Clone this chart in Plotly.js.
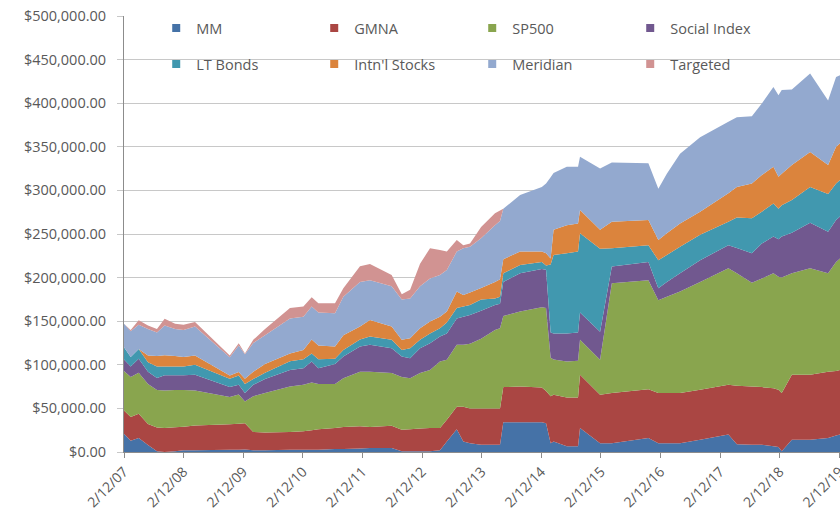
<!DOCTYPE html>
<html>
<head>
<meta charset="utf-8">
<script src="https://cdn.plot.ly/plotly-3.0.1.min.js"></script>
<style>html,body{margin:0;padding:0;background:#fff}#chart{width:840px;height:521px}</style>
</head>
<body>
<div id="chart"></div>
<script>
const dates = ['2007-02-12','2007-03-25','2007-05-13','2007-07-09','2007-09-02','2007-10-19','2007-12-22','2008-02-12','2008-04-22','2008-11-21',
'2009-01-15','2009-02-22','2009-04-14','2009-06-25','2009-11-25','2010-02-15','2010-04-07','2010-05-18','2010-08-28','2010-10-18',
'2011-01-28','2011-03-30','2011-08-10','2011-10-11','2011-12-01','2012-01-31','2012-04-01','2012-06-01','2012-07-13','2012-09-12',
'2012-10-22','2012-12-02','2013-02-08','2013-05-04','2013-06-04','2013-06-24','2013-10-05','2014-02-15','2014-03-13','2014-04-10',
'2014-04-28','2014-07-18','2014-09-25','2014-10-07','2015-02-07','2015-04-20','2015-11-30','2016-01-30','2016-03-22','2016-06-11',
'2016-10-12','2017-04-03','2017-05-25','2017-08-25','2017-10-25','2018-01-04','2018-02-04','2018-02-24','2018-04-27','2018-08-17',
'2018-12-05','2019-01-23','2019-02-16'];

const MM = [21000,13000,16000,8000,1000,0,1000,2000,2000,2700,
2700,3000,2000,2000,2700,2700,2700,2700,3400,3400,
4000,4600,4600,1000,1000,1000,1000,2000,12000,26000,
12000,10000,8400,8400,8400,34000,34000,34000,33000,10000,
12000,6500,6500,27500,10000,10000,16000,10000,10000,10000,
14000,20000,9000,8400,8400,6500,5700,800,14000,14000,
16000,19000,20000];

const GMNA = [26700,27000,28000,24000,27000,27500,27500,27000,28500,29000,
29700,30000,21000,20500,20300,21000,22100,23300,24100,25200,
25400,24000,25400,24600,25000,26000,26500,25500,25000,26000,
40000,40000,41600,41600,41600,40400,41000,40000,37000,54000,
53600,56100,56100,61100,55600,57600,56000,57600,57600,57600,
57400,57000,67000,66600,66000,66500,65700,66800,74600,74600,
76000,74000,74000];

const SP500 = [45300,46000,47000,46000,43000,43100,42500,42000,40100,31300,
33600,25000,41000,45100,52000,53300,55000,52000,50500,56100,
62600,63400,60500,60400,58700,63500,66500,76300,68700,71000,
71000,74000,80000,90000,92000,81600,86000,92000,95000,44000,
40400,41200,42000,40000,40100,125900,125000,106400,110400,116400,
123600,133700,129000,119000,124600,132000,129600,132400,116400,122100,
113000,125000,128000];

const SocialIndex = [13000,12000,16000,14000,14000,17400,17000,17000,17900,11400,
11000,9600,13000,16000,19000,19000,24000,18000,23000,24800,
29000,31000,28500,23500,22900,28500,30800,28600,30300,30000,
32000,33000,32000,28700,28000,39000,44000,44000,44000,29000,
30000,32200,32400,31400,32300,19100,21000,13800,17000,21000,
25000,26300,29000,34000,40000,42000,43000,47000,46500,52300,
47700,48000,48000];

const LTBonds = [14000,11000,11000,11000,13000,10000,10000,10000,11500,9600,
10800,10400,6600,7400,10000,10500,9200,10500,6000,7500,
8000,9400,9600,7500,11400,9600,11200,9600,12500,12000,
11800,11700,13000,7300,8000,10000,9500,8000,5000,78000,
90000,92000,93000,90800,95000,21000,19000,32200,31000,30500,
29000,27000,35000,40000,36600,38000,35000,36000,37500,41000,
43300,42000,42000];

const IntlStocks = [0,0,0,7700,12000,13000,12000,11000,10700,3800,
3800,6000,8400,9800,9000,10500,16000,15500,14000,17000,
15000,19100,15400,11600,11500,13400,13600,13000,12500,19000,
13200,14300,13000,19000,20000,16000,15500,12000,14000,7000,
29000,32000,32000,26700,22000,30400,29000,23000,25000,26500,
26600,32600,35000,40000,42000,42000,36600,36000,40000,40000,
33000,42000,42000];

const Meridian = [27000,29600,28000,30300,27000,34000,31000,31000,33300,21000,
30400,28000,33000,33200,40000,38000,38000,38000,38000,44000,
51000,45500,46000,46400,45500,48000,49400,48000,47800,45800,
53600,52500,57000,65000,67000,58000,64700,74000,80000,93000,
65000,67000,65000,61100,70000,68000,65000,59000,68000,80000,
85400,82000,80000,77000,82000,91700,93400,96000,86700,90000,
74000,80000,78000];

const Targeted = [0,1400,5000,4000,4000,7700,6000,6000,5000,1900,
2800,1000,3600,7000,12000,12000,10500,10600,11600,9800,
18000,18700,13000,6000,10000,26000,34600,28700,21000,13200,
3400,3500,13000,13700,12000,0,0,0,0,0,
0,0,0,0,0,0,0,0,0,0,
0,0,0,0,0,0,0,0,0,0,
0,0,0];

const seriesNames = ['MM','GMNA','SP500','Social Index','LT Bonds',"Intn'l Stocks",'Meridian','Targeted'];
const seriesData = [MM, GMNA, SP500, SocialIndex, LTBonds, IntlStocks, Meridian, Targeted];
const seriesColors = ['#4572A7','#AA4643','#89A54E','#71588F','#4198AF','#DB843D','#93A9CF','#D19392'];

const tickDates = ['2007-02-12','2008-02-12','2009-02-12','2010-02-12','2011-02-12','2012-02-12','2013-02-12','2014-02-12','2015-02-12','2016-02-12','2017-02-12','2018-02-12','2019-02-12'];
const tickLabels = ['2/12/07','2/12/08','2/12/09','2/12/10','2/12/11','2/12/12','2/12/13','2/12/14','2/12/15','2/12/16','2/12/17','2/12/18','2/12/19'];

const traces = [];
seriesNames.forEach((name, i) => {
  traces.push({
    type: 'scatter', x: dates, y: seriesData[i], name: name,
    stackgroup: 'one', mode: 'none', fillcolor: seriesColors[i],
    line: {width: 0}, showlegend: false, hoverinfo: 'x+y+name'
  });
});
seriesNames.forEach((name, i) => {
  traces.push({
    type: 'scatter', x: [dates[0]], y: [null], name: name, mode: 'markers',
    marker: {symbol: 'square', size: 8, color: seriesColors[i]},
    legend: i < 4 ? 'legend' : 'legend2', showlegend: true, hoverinfo: 'skip'
  });
});

const gray = '#595959';
const legendCommon = {
  orientation: 'h', entrywidth: 113, entrywidthmode: 'pixels', traceorder: 'normal',
  bgcolor: 'rgba(0,0,0,0)', borderwidth: 0,
  font: {family: 'Open Sans, sans-serif', size: 14.5, color: gray},
  xref: 'paper', yref: 'paper', xanchor: 'left', yanchor: 'middle',
  itemclick: false, itemdoubleclick: false
};

const layout = {
  width: 840, height: 521,
  margin: {l: 124, r: 0, t: 16, b: 69, pad: 0},
  paper_bgcolor: '#ffffff', plot_bgcolor: '#ffffff',
  font: {family: 'Open Sans, sans-serif', size: 14.5, color: gray},
  showlegend: true,
  xaxis: {
    type: 'date', range: [dates[0], dates[dates.length - 1]],
    tickmode: 'array', tickvals: tickDates, ticktext: tickLabels,
    tickangle: -45, showgrid: false, zeroline: false,
    showline: true, linecolor: '#8C8C8C', linewidth: 1,
    ticks: 'outside', ticklen: 5, tickcolor: '#8C8C8C',
    ticklabeloverflow: 'allow',
    tickfont: {family: 'Open Sans, sans-serif', size: 14, color: gray},
    automargin: false
  },
  yaxis: {
    range: [0, 500000], tick0: 0, dtick: 50000, tickformat: '$,.2f',
    showgrid: true, gridcolor: '#C8C8C8', gridwidth: 1, zeroline: false,
    showline: true, linecolor: '#8C8C8C', linewidth: 1,
    ticks: 'outside', ticklen: 6, tickcolor: '#C8C8C8',
    ticklabelstandoff: 8,
    tickfont: {family: 'Open Sans, sans-serif', size: 14.5, color: gray},
    automargin: false
  },
  legend: Object.assign({}, legendCommon, {x: 0.045, y: 0.9725}),
  legend2: Object.assign({}, legendCommon, {x: 0.045, y: 0.890})
};

Plotly.newPlot('chart', traces, layout, {displayModeBar: false, staticPlot: true});
</script>
</body>
</html>
